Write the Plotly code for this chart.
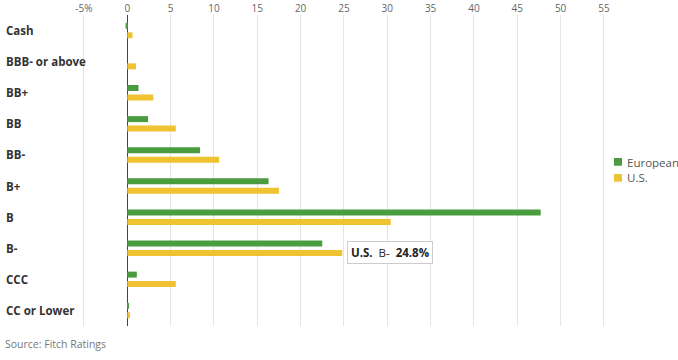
import plotly.graph_objects as go

categories = ["Cash", "BBB- or above", "BB+", "BB", "BB-", "B+", "B", "B-", "CCC", "CC or Lower"]
european = [-0.2, 0.0, 1.3, 2.4, 8.4, 16.3, 47.7, 22.5, 1.1, 0.1]
us = [0.6, 1.0, 3.0, 5.6, 10.6, 17.5, 30.4, 24.8, 5.6, 0.3]
tick_vals = [-5, 0, 5, 10, 15, 20, 25, 30, 35, 40, 45, 50, 55]
tick_text = ["-5%", "0", "5", "10", "15", "20", "25", "30", "35", "40", "45", "50", "55"]
series_names = ["European", "U.S."]

GREEN = "#4a9d3f"
YELLOW = "#efc232"
FONT = "Open Sans"

fig = go.Figure()
fig.add_trace(go.Bar(y=categories, x=european, orientation="h", name=series_names[0],
                     marker=dict(color=GREEN, line=dict(width=0)), showlegend=False))
fig.add_trace(go.Bar(y=categories, x=us, orientation="h", name=series_names[1],
                     marker=dict(color=YELLOW, line=dict(width=0)), showlegend=False))

for c in categories:
    fig.add_annotation(x=0, xref="paper", y=c, yref="y", text="<b>" + c + "</b>",
                       showarrow=False, xanchor="left", yanchor="middle", xshift=-3,
                       font=dict(family=FONT, size=11.5, color="#333333"))

# tooltip-like callout
fig.add_annotation(x=us[7], y=categories[7], xref="x", yref="y",
                   text="<b>U.S.</b>  B-  <b>24.8%</b>", showarrow=False,
                   xanchor="left", yanchor="middle", xshift=5, yshift=-4,
                   font=dict(family=FONT, size=11.5, color="#222222"),
                   bgcolor="white", bordercolor="#cccccc", borderwidth=1, borderpad=3)

# legend: swatches + labels
sw_y = [(0.5154, 0.5402), (0.4640, 0.4887)]
txt_y = [0.5273, 0.4769]
for nm, col, (y0, y1), ty in zip(series_names, [GREEN, YELLOW], sw_y, txt_y):
    fig.add_shape(type="rect", xref="paper", yref="paper", x0=1.0066, x1=1.0199,
                  y0=y0, y1=y1, fillcolor=col, line=dict(width=0))
    fig.add_annotation(x=1.0250, xref="paper", y=ty, yref="paper", text=nm,
                       showarrow=False, xanchor="left", yanchor="middle", height=13,
                       font=dict(family=FONT, size=11.5, color="#555555"))

fig.add_annotation(x=0, xref="paper", y=-0.028, yref="paper", text="Source: Fitch Ratings",
                   showarrow=False, xanchor="left", yanchor="top", xshift=-4,
                   font=dict(family=FONT, size=10.5, color="#777777"))

fig.update_layout(
    width=678, height=360,
    margin=dict(l=7, r=68, t=15, b=34, autoexpand=False),
    paper_bgcolor="white", plot_bgcolor="white",
    barmode="group", bargap=0.39, bargroupgap=0.37,
    font=dict(family=FONT),
    showlegend=False,
    xaxis=dict(side="top", range=[-13.88, 55.7], tickvals=tick_vals, ticktext=tick_text,
               showgrid=True, gridcolor="#e4e4e4", gridwidth=1,
               zeroline=True, zerolinecolor="#444444", zerolinewidth=1,
               tickfont=dict(family=FONT, size=10, color="#666666"),
               ticks="", showline=False, fixedrange=True),
    yaxis=dict(categoryorder="array", categoryarray=categories, autorange="reversed",
               showticklabels=False, showgrid=False, zeroline=False, ticks="",
               showline=False, fixedrange=True),
)

fig.write_html("out.html")
